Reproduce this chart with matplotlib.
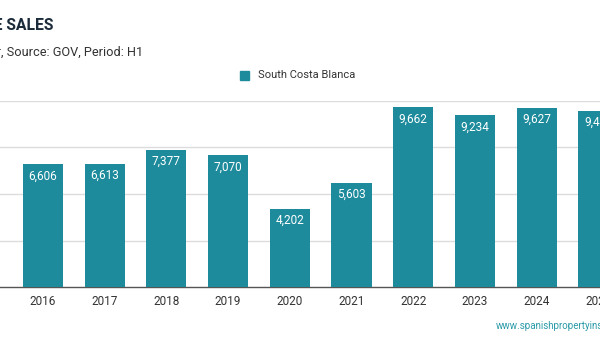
import matplotlib
matplotlib.use("Agg")
import matplotlib.pyplot as plt

plt.rcParams['font.family'] = ['Roboto', 'DejaVu Sans']

years = ['2016', '2017', '2018', '2019', '2020', '2021', '2022', '2023', '2024', '2025']
sales = [6606, 6613, 7377, 7070, 4202, 5603, 9662, 9234, 9627, 9480]
series_name = 'South Costa Blanca'

bar_color = '#1e8b9c'

fig = plt.figure(figsize=(6, 3.5), dpi=100)
ax = fig.add_axes([0, 63/350, 1, 186/350])

x = list(range(len(years)))
ax.bar(x, sales, width=0.65, color=bar_color, zorder=3)
for xi, v in zip(x, sales):
    ax.text(xi, v - 280, f'{v:,}', ha='center', va='top', color='white',
            fontsize=8.5, zorder=4)

ax.set_xlim(-0.697, 9.027)
ax.set_ylim(0, 10000)
ax.set_yticks([2500, 5000, 7500, 10000])
ax.yaxis.grid(True, color='#dcdcdc', linewidth=1)
ax.tick_params(axis='y', left=False, labelleft=False)
ax.set_xticks(x)
ax.set_xticklabels(years, fontsize=8.5, color='#333333')
ax.tick_params(axis='x', length=0, pad=6)
for s in ['top', 'right', 'left']:
    ax.spines[s].set_visible(False)
ax.spines['bottom'].set_color('#555555')
ax.spines['bottom'].set_linewidth(1)
ax.set_axisbelow(True)

# title / subtitle (cut at left edge as in reference)
fig.text(53/600, 1 - 25/350, 'HOME SALES', ha='right', va='center',
         fontsize=11.3, fontweight='bold', color='#1c2b3a')
fig.text(143/600, 1 - 52/350, 'Units: Number, Source: GOV, Period: H1', ha='right',
         va='center', fontsize=9.2, color='#333333')

# legend
fig.patches.append(plt.Rectangle((240/600, 1 - 80/350), 9/600, 9/350,
                                 transform=fig.transFigure, color=bar_color))
fig.text(258/600, 1 - 75.5/350, series_name, ha='left', va='center',
         fontsize=8, color='#333333')

fig.text(496/600, 1 - 326/350, 'www.spanishpropertyinsight.com', ha='left',
         va='center', fontsize=7, color='#2a9aa8')

fig.savefig('out.png', dpi=100)
